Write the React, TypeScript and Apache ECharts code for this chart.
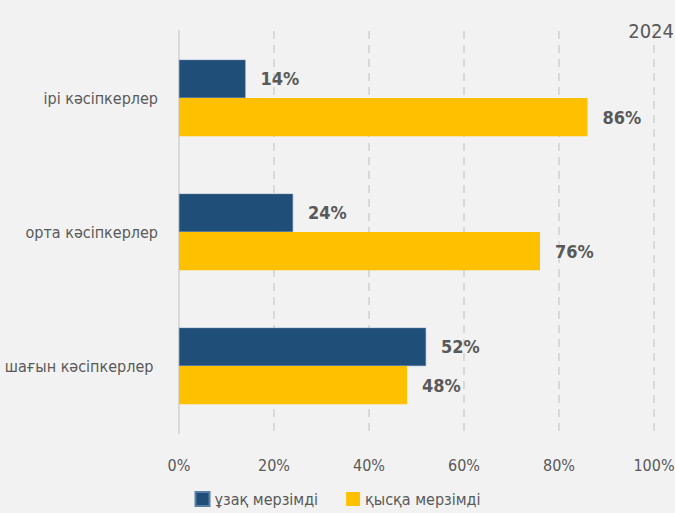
import React, { useEffect, useRef } from "react";
import * as echarts from "echarts";

const categories = ["ірі кәсіпкерлер", "орта кәсіпкерлер", "шағын кәсіпкерлер "];
const seriesNames = ["ұзақ мерзімді", "қысқа мерзімді"];
const longTerm = [14, 24, 52];
const shortTerm = [86, 76, 48];
const xTicks = [0, 20, 40, 60, 80, 100];
const title = "2024";

const FONT = "'DejaVu Sans Condensed', 'Liberation Sans Narrow', sans-serif";
const GREY = "#595959";

export default function App() {
  const ref = useRef<HTMLDivElement>(null);
  useEffect(() => {
    document.body.style.margin = "0";
    const chart = echarts.init(ref.current!, undefined, { renderer: "svg" });
    const labelStyle = {
      show: true,
      position: "right",
      distance: 15,
      formatter: "{c}%",
      fontFamily: FONT,
      fontSize: 18,
      fontWeight: "bold",
      color: GREY,
    };
    chart.setOption({
      animation: false,
      backgroundColor: "#F2F2F2",
      title: {
        text: title,
        right: -4,
        top: 16,
        textStyle: { fontFamily: FONT, fontSize: 20, fontWeight: "normal", color: GREY },
      },
      legend: {
        data: seriesNames,
        bottom: 1,
        left: "center",
        icon: "rect",
        itemWidth: 14,
        itemHeight: 14,
        itemGap: 28,
        textStyle: { fontFamily: FONT, fontSize: 16, color: GREY },
      },
      grid: { left: 179, right: 21, top: 31, bottom: 80, containLabel: false, outerBoundsMode: "none" },
      xAxis: {
        type: "value",
        min: xTicks[0],
        max: xTicks[xTicks.length - 1],
        interval: 20,
        axisLine: { show: false },
        axisTick: { show: false },
        axisLabel: {
          formatter: "{value}%",
          fontFamily: FONT,
          fontSize: 16,
          color: GREY,
          margin: 24,
        },
        splitLine: { show: true, lineStyle: { color: "#D9D9D9", width: 2, type: [8, 6] } },
      },
      yAxis: {
        type: "category",
        data: categories,
        inverse: true,
        axisLine: { show: true, lineStyle: { color: "#D9D9D9", width: 2 } },
        axisTick: { show: false },
        axisLabel: { fontFamily: FONT, fontSize: 16, color: GREY, margin: 21 },
      },
      series: [
        {
          name: seriesNames[0],
          type: "bar",
          data: longTerm,
          barGap: "0%",
          barCategoryGap: "43%",
          itemStyle: { color: "#1F4E79", borderColor: "#5A7FA6", borderWidth: 0.5 },
          label: labelStyle,
        },
        {
          name: seriesNames[1],
          type: "bar",
          data: shortTerm,
          itemStyle: { color: "#FFC000" },
          label: labelStyle,
        },
      ],
    });
    return () => chart.dispose();
  }, []);
  return <div ref={ref} style={{ width: 675, height: 513, position: "absolute", left: 0, top: 0 }} />;
}
